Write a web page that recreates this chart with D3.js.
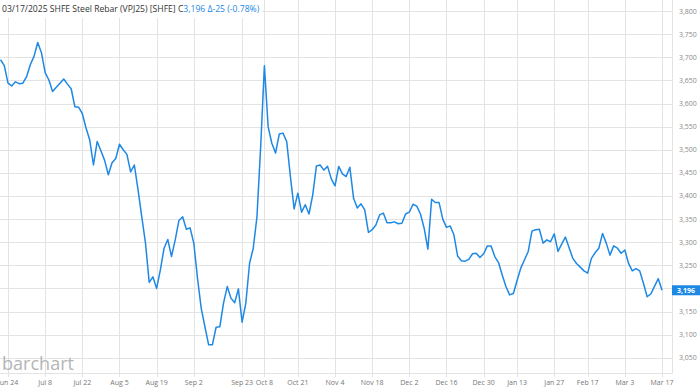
<!DOCTYPE html>
<html lang="en">
    <head>
        <meta charset="utf-8">
        <title>SHFE Steel Rebar</title>
        <script type="text/javascript" src="https://cdnjs.cloudflare.com/ajax/libs/d3/7.8.5/d3.min.js"></script>
        <style>
            html, body { margin: 0; padding: 0; background: #fff; }
            #chart { width: 700px; height: 389px; }
            text { font-family: "Open Sans", sans-serif; }
        </style>
    </head>
    <body>
        <div id="chart"></div>
        <script type="text/javascript">
            //x axis labels and the trading day (counted from Jun 24) each one sits on
            var tickLabels = ["Jun 24", "Jul 8", "Jul 22", "Aug 5", "Aug 19", "Sep 2", "Sep 23", "Oct 8", "Oct 21", "Nov 4",
                              "Nov 18", "Dec 2", "Dec 16", "Dec 30", "Jan 13", "Jan 27", "Feb 17", "Mar 3", "Mar 17"];
            var tickDays = [0, 10, 20, 30, 40, 50, 63, 69, 78, 88, 98, 108, 118, 128, 137, 147, 156, 166, 176];

            //y axis ticks
            var priceTicks = [3050, 3100, 3150, 3200, 3250, 3300, 3350, 3400, 3450, 3500, 3550, 3600, 3650, 3700, 3750, 3800];

            //daily closes, first one is two trading days before Jun 24
            var firstDay = -2;
            var closes = [3695, 3682, 3644, 3638, 3647, 3643, 3644, 3658, 3684, 3702, 3732, 3710,
                          3667, 3651, 3626, 3635, 3644, 3653, 3642, 3632, 3593, 3592,
                          3578, 3547, 3521, 3467, 3518, 3498, 3477, 3446, 3472, 3481,
                          3512, 3500, 3490, 3452, 3467, 3413, 3355, 3298, 3213, 3225,
                          3200, 3240, 3287, 3306, 3269, 3305, 3347, 3355, 3328, 3331,
                          3298, 3222, 3157, 3117, 3078, 3078, 3116, 3117, 3168, 3204,
                          3179, 3169, 3199, 3127, 3168, 3254, 3287, 3355, 3507, 3682,
                          3550, 3514, 3493, 3534, 3536, 3518, 3442, 3372, 3406, 3365,
                          3381, 3361, 3402, 3465, 3467, 3456, 3464, 3437, 3422, 3464,
                          3448, 3442, 3462, 3395, 3374, 3383, 3370, 3321, 3327, 3337,
                          3359, 3363, 3342, 3342, 3344, 3340, 3341, 3361, 3365, 3382,
                          3378, 3361, 3330, 3285, 3393, 3386, 3386, 3350, 3332, 3335,
                          3316, 3270, 3260, 3259, 3263, 3275, 3276, 3267, 3275, 3292,
                          3292, 3269, 3256, 3229, 3204, 3186, 3189, 3217, 3244, 3262,
                          3280, 3324, 3327, 3328, 3298, 3305, 3301, 3318, 3280, 3296,
                          3311, 3288, 3265, 3254, 3246, 3238, 3233, 3265, 3277, 3287,
                          3319, 3298, 3272, 3292, 3287, 3276, 3283, 3254, 3238, 3243,
                          3238, 3211, 3182, 3188, 3205, 3221, 3196];

            //header pieces
            var titleText = "03/17/2025 SHFE Steel Rebar (VPJ25) [SHFE] C";
            var lastText = "3,196";
            var changeText = " \u0394-25 (-0.78%)";

            var width = 700, height = 389,
                plotRight = 672, plotBottom = 373,
                blue = "#1e88e5",
                gridColor = "#e3e3e3";

            var svg = d3.select("#chart").append("svg")
                .attr("width", width)
                .attr("height", height);

            //trading day index -> x
            var xScale = d3.scaleLinear()
                .domain([-2.153, 178.69])
                .range([0, plotRight]);

            var yScale = d3.scaleLinear()
                .domain([3017, 3824])
                .range([plotBottom, 0]);

            var last = closes[closes.length - 1];

            //horizontal grid
            svg.append("g").selectAll("line")
                .data(priceTicks)
                .enter().append("line")
                .attr("x1", 0)
                .attr("x2", plotRight)
                .attr("y1", function(d) { return Math.round(yScale(d)) + 0.5; })
                .attr("y2", function(d) { return Math.round(yScale(d)) + 0.5; })
                .attr("stroke", gridColor);

            //vertical grid, runs a little under the bottom line as tick marks
            svg.append("g").selectAll("line")
                .data(tickDays)
                .enter().append("line")
                .attr("x1", function(d) { return Math.round(xScale(d)) + 0.5; })
                .attr("x2", function(d) { return Math.round(xScale(d)) + 0.5; })
                .attr("y1", 0)
                .attr("y2", plotBottom + 4)
                .attr("stroke", gridColor);

            //bottom and right border
            svg.append("line")
                .attr("x1", 0).attr("x2", plotRight + 0.5)
                .attr("y1", plotBottom + 0.5).attr("y2", plotBottom + 0.5)
                .attr("stroke", gridColor);
            svg.append("line")
                .attr("x1", plotRight + 0.5).attr("x2", plotRight + 0.5)
                .attr("y1", 0).attr("y2", plotBottom + 0.5)
                .attr("stroke", gridColor);

            //y labels on the right, the ones under the last price badge are left out
            svg.append("g").selectAll("text")
                .data(priceTicks.filter(function(d) { return Math.abs(yScale(d) - yScale(last)) > 12; }))
                .enter().append("text")
                .attr("x", 679)
                .attr("y", function(d) { return yScale(d); })
                .attr("dy", "0.35em")
                .attr("font-size", "7px")
                .attr("fill", "#8a8a8a")
                .text(d3.format(","));

            //x labels
            svg.append("g").selectAll("text")
                .data(tickDays)
                .enter().append("text")
                .attr("x", function(d) { return xScale(d); })
                .attr("y", 385)
                .attr("text-anchor", "middle")
                .attr("font-size", "7px")
                .attr("fill", "#777")
                .text(function(d, i) { return tickLabels[i]; });

            //watermark logo
            svg.append("text")
                .attr("x", 2)
                .attr("y", 370)
                .attr("font-family", "Lato, sans-serif")
                .attr("font-size", "18px")
                .attr("fill", "#b5b5b5")
                .attr("textLength", 72)
                .attr("lengthAdjust", "spacingAndGlyphs")
                .text("barchart");

            //price line
            var line = d3.line()
                .x(function(d, i) { return xScale(firstDay + i); })
                .y(function(d) { return yScale(d); });

            svg.append("path")
                .datum(closes)
                .attr("d", line)
                .attr("fill", "none")
                .attr("stroke", blue)
                .attr("stroke-width", 1.5)
                .attr("stroke-linejoin", "round");

            //last price badge
            svg.append("rect")
                .attr("x", plotRight)
                .attr("y", yScale(last) - 5)
                .attr("width", width - plotRight)
                .attr("height", 10)
                .attr("fill", blue);
            svg.append("text")
                .attr("x", 686)
                .attr("y", yScale(last))
                .attr("dy", "0.35em")
                .attr("text-anchor", "middle")
                .attr("font-size", "7px")
                .attr("font-weight", "bold")
                .attr("fill", "#fff")
                .text(d3.format(",")(last));

            //header with a white box behind it
            svg.append("rect")
                .attr("x", 0).attr("y", 0)
                .attr("width", 262).attr("height", 18)
                .attr("fill", "#fff");
            var header = svg.append("text")
                .attr("x", 2)
                .attr("y", 12)
                .attr("font-size", "8.6px")
                .attr("fill", "#333");
            header.append("tspan").text(titleText);
            header.append("tspan").attr("fill", blue).text(lastText + changeText);
        </script>
    </body>
</html>
